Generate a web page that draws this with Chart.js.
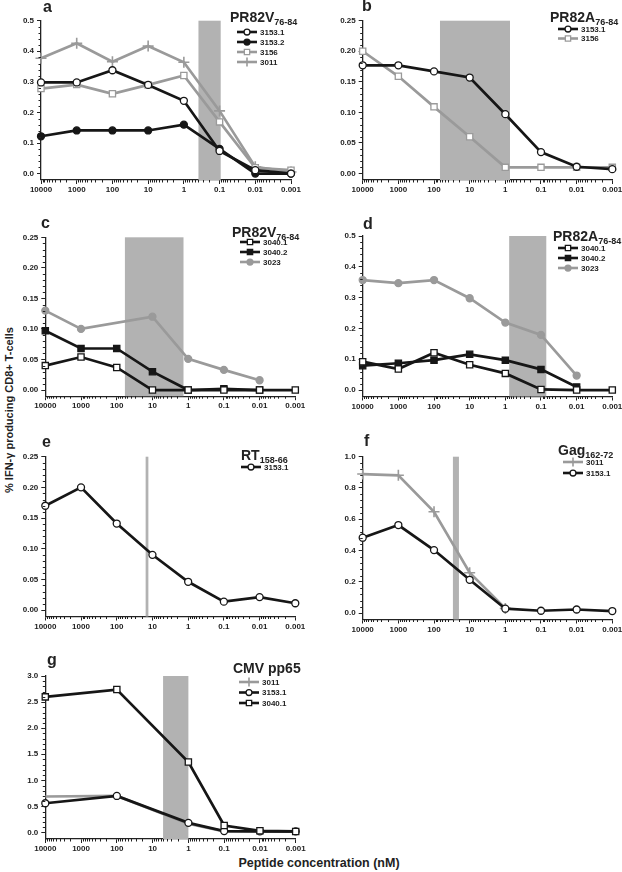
<!DOCTYPE html>
<html>
<head>
<meta charset="utf-8">
<script src="https://cdn.jsdelivr.net/npm/chart.js@4.4.1/dist/chart.umd.min.js"></script>
<style>
  html, body { margin: 0; padding: 0; background: #fff; }
  #fig { position: relative; width: 622px; height: 872px; overflow: hidden; }
  #fig canvas { position: absolute; left: 0; top: 0; }
  .ytitle { position: absolute; left: 9px; top: 410px; transform: translate(-50%, -50%) rotate(-90deg);
            white-space: nowrap; font: bold 11px 'Liberation Sans', Arial, sans-serif; color: #222; }
  .xtitle { position: absolute; left: 319px; top: 863px; transform: translate(-50%, -50%);
            white-space: nowrap; font: bold 12.5px 'Liberation Sans', Arial, sans-serif; color: #222; }
</style>
</head>
<body>
<div id="fig">
  <div class="ytitle">% IFN-γ producing CD8+ T-cells</div>
  <div class="xtitle">Peptide concentration (nM)</div>
</div>
<script>
// peptide concentrations (nM), x axis runs high -> low
const conc = [10000, 1000, 100, 10, 1, 0.1, 0.01, 0.001];

// a: PR82V 76-84
const a_3153_1 = [0.298, 0.298, 0.338, 0.29, 0.238, 0.074, 0.011, 0.0];
const a_3153_2 = [0.122, 0.141, 0.141, 0.141, 0.16, 0.081, 0.0, 0.0];
const a_3156   = [0.278, 0.291, 0.261, 0.29, 0.321, 0.169, 0.019, 0.011];
const a_3011   = [0.377, 0.426, 0.366, 0.417, 0.364, 0.205, 0.022, 0.005];
const a_band   = [0.39, 0.093];

// b: PR82A 76-84
const b_3153_1 = [0.177, 0.177, 0.167, 0.157, 0.097, 0.035, 0.011, 0.007];
const b_3156   = [0.20, 0.159, 0.109, 0.06, 0.01, 0.01, 0.01, 0.01];
const b_band   = [68, 0.74];

// c: PR82V 76-84
const c_3040_1 = [0.04, 0.054, 0.037, 0.0, 0.0, 0.0, 0.0, 0.0];
const c_3040_2 = [0.097, 0.068, 0.068, 0.03, 0.0, 0.002, 0.0, null];
const c_3023   = [0.13, 0.10, null, 0.12, 0.051, 0.033, 0.016, null];
const c_band   = [59, 1.35];

// d: PR82A 76-84
const d_3040_1 = [0.092, 0.068, 0.121, 0.082, 0.054, 0.002, 0.0, 0.0];
const d_3040_2 = [0.079, 0.087, 0.097, 0.116, 0.097, 0.067, 0.01, null];
const d_3023   = [0.357, 0.347, 0.357, 0.298, 0.219, 0.179, 0.047, null];
const d_band   = [0.78, 0.071];

// e: RT 158-66
const e_3153_1 = [0.17, 0.20, 0.141, 0.09, 0.046, 0.0136, 0.021, 0.011];
const e_band   = [15.5, 13];

// f: Gag 162-72
const f_3011   = [0.889, 0.881, 0.648, 0.258, 0.03, null, null, null];
const f_3153_1 = [0.482, 0.563, 0.403, 0.213, 0.028, 0.015, 0.023, 0.013];
const f_band   = [29.5, 20];

// g: CMV pp65
const g_3011   = [0.69, null, 0.70, null, 0.166, 0.02, 0.02, 0.02];
const g_3153_1 = [0.56, null, 0.70, null, 0.185, 0.026, 0.02, 0.02];
const g_3040_1 = [2.60, null, 2.74, null, 1.35, 0.134, 0.032, 0.02];
const g_band   = [5.1, 1.0];

const BLACK = '#161616', GRAY = '#9a9a9a', BAND = '#b2b2b2', TEXT = '#222';
const FONT = "'Liberation Sans', Arial, sans-serif";

const styles = {
  blackOpenCircle:  { color: BLACK, fill: '#fff', shape: 'circle', r: 3.5 },
  blackDotCircle:   { color: BLACK, fill: BLACK,  shape: 'circle', r: 3.5 },
  grayOpenSquare:   { color: GRAY,  fill: '#fff', shape: 'rect',   r: 4.4 },
  grayCross:        { color: GRAY,  fill: GRAY,   shape: 'cross',  r: 5.5 },
  blackOpenSquare:  { color: BLACK, fill: '#fff', shape: 'rect',   r: 4.4 },
  blackDotSquare:   { color: BLACK, fill: BLACK,  shape: 'rect',   r: 4.4 },
  grayDotCircle:    { color: GRAY,  fill: GRAY,   shape: 'circle', r: 3.5 }
};

const panels = [
  { letter: 'a', letterPos: [43, 12], title: 'PR82V', sub: '76-84', titlePos: [230, 22],
    area: [41, 20.7, 291, 180], yMin: -0.021, yMax: 0.5, yTicks: [0, 0.1, 0.2, 0.3, 0.4, 0.5], dec: 1,
    band: a_band, legend: [237, 32, 10],
    series: [
      { label: '3153.1', data: a_3153_1, style: 'blackOpenCircle' },
      { label: '3153.2', data: a_3153_2, style: 'blackDotCircle' },
      { label: '3156',   data: a_3156,   style: 'grayOpenSquare' },
      { label: '3011',   data: a_3011,   style: 'grayCross' }
    ] },
  { letter: 'b', letterPos: [362, 11], title: 'PR82A', sub: '76-84', titlePos: [550, 22],
    area: [362.7, 20.7, 612.3, 180], yMin: -0.0107, yMax: 0.25, yTicks: [0, 0.05, 0.1, 0.15, 0.2, 0.25], dec: 2,
    band: b_band, legend: [558, 29, 9.5],
    series: [
      { label: '3153.1', data: b_3153_1, style: 'blackOpenCircle' },
      { label: '3156',   data: b_3156,   style: 'grayOpenSquare' }
    ] },
  { letter: 'c', letterPos: [41, 228], title: 'PR82V', sub: '76-84', titlePos: [232, 237],
    area: [45.3, 237.3, 295.3, 396.2], yMin: -0.0101, yMax: 0.25, yTicks: [0, 0.05, 0.1, 0.15, 0.2, 0.25], dec: 2,
    band: c_band, legend: [240, 242, 10],
    series: [
      { label: '3040.1', data: c_3040_1, style: 'blackOpenSquare' },
      { label: '3040.2', data: c_3040_2, style: 'blackDotSquare' },
      { label: '3023',   data: c_3023,   style: 'grayDotCircle' }
    ] },
  { letter: 'd', letterPos: [363, 229], title: 'PR82A', sub: '76-84', titlePos: [553, 241],
    area: [362.7, 236, 612.3, 396.5], yMin: -0.021, yMax: 0.5, yTicks: [0, 0.1, 0.2, 0.3, 0.4, 0.5], dec: 1,
    band: d_band, legend: [558, 248, 10],
    series: [
      { label: '3040.1', data: d_3040_1, style: 'blackOpenSquare' },
      { label: '3040.2', data: d_3040_2, style: 'blackDotSquare' },
      { label: '3023',   data: d_3023,   style: 'grayDotCircle' }
    ] },
  { letter: 'e', letterPos: [42, 447], title: 'RT', sub: '158-66', titlePos: [241, 460],
    area: [45.3, 456.7, 295.3, 616.5], yMin: -0.0106, yMax: 0.25, yTicks: [0, 0.05, 0.1, 0.15, 0.2, 0.25], dec: 2,
    band: e_band, legend: [241, 467, 10],
    series: [
      { label: '3153.1', data: e_3153_1, style: 'blackOpenCircle' }
    ] },
  { letter: 'f', letterPos: [364, 446], title: 'Gag', sub: '162-72', titlePos: [558, 455],
    area: [362.7, 456.7, 612.3, 619.5], yMin: -0.041, yMax: 1.0, yTicks: [0, 0.2, 0.4, 0.6, 0.8, 1.0], dec: 1,
    band: f_band, legend: [563, 462, 11],
    series: [
      { label: '3011',   data: f_3011,   style: 'grayCross', order: 1 },
      { label: '3153.1', data: f_3153_1, style: 'blackOpenCircle', order: 0 }
    ] },
  { letter: 'g', letterPos: [47, 665], title: 'CMV pp65', sub: '', titlePos: [233, 673],
    area: [45.3, 676, 295.7, 839], yMin: -0.125, yMax: 3.0, yTicks: [0, 0.5, 1, 1.5, 2, 2.5, 3], dec: 1,
    band: g_band, legend: [239, 682, 10.5],
    series: [
      { label: '3011',   data: g_3011,   style: 'grayCross', order: 2, noPoints: true },
      { label: '3153.1', data: g_3153_1, style: 'blackOpenCircle', order: 1 },
      { label: '3040.1', data: g_3040_1, style: 'blackOpenSquare', order: 0 }
    ] }
];

function drawMarker(ctx, st, x, y, r) {
  ctx.save();
  ctx.lineWidth = st.shape === 'cross' ? 1.6 : 1.3;
  ctx.strokeStyle = st.color;
  ctx.fillStyle = st.fill;
  ctx.beginPath();
  if (st.shape === 'circle') {
    ctx.arc(x, y, r, 0, Math.PI * 2);
  } else if (st.shape === 'rect') {
    const s = r * Math.SQRT1_2;
    ctx.rect(x - s, y - s, 2 * s, 2 * s);
  } else {
    ctx.moveTo(x - r, y); ctx.lineTo(x + r, y);
    ctx.moveTo(x, y - r); ctx.lineTo(x, y + r);
  }
  if (st.shape !== 'cross') ctx.fill();
  ctx.stroke();
  ctx.restore();
}

// band, minor ticks, panel letter and legend for one panel
function makeDecor(p) {
  return {
    id: 'decor',
    beforeDatasetsDraw(chart) {
      const ctx = chart.ctx, xs = chart.scales.x, ca = chart.chartArea;
      const x1 = xs.getPixelForValue(p.band[0]), x2 = xs.getPixelForValue(p.band[1]);
      ctx.save();
      ctx.fillStyle = BAND;
      ctx.fillRect(Math.min(x1, x2), ca.top, Math.abs(x2 - x1), ca.bottom - ca.top);
      ctx.restore();
    },
    afterDraw(chart) {
      const ctx = chart.ctx, xs = chart.scales.x, ys = chart.scales.y, ca = chart.chartArea;
      ctx.save();
      ctx.strokeStyle = TEXT;
      ctx.lineWidth = 1;
      // minor ticks on the log x axis
      ctx.beginPath();
      for (let d = 0.001; d < 5000; d *= 10) {
        for (let k = 2; k <= 9; k++) {
          const px = Math.round(xs.getPixelForValue(k * d)) + 0.5;
          ctx.moveTo(px, ca.bottom); ctx.lineTo(px, ca.bottom + 2.5);
        }
      }
      // minor ticks on y
      const step = (p.yTicks[1] - p.yTicks[0]) / 5;
      for (let i = 1; i * step < p.yMax - 1e-9; i++) {
        if (i % 5 === 0) continue;
        const py = Math.round(ys.getPixelForValue(i * step)) + 0.5;
        ctx.moveTo(ca.left - 2.5, py); ctx.lineTo(ca.left, py);
      }
      ctx.stroke();

      // panel letter
      ctx.fillStyle = TEXT;
      ctx.textBaseline = 'alphabetic';
      ctx.font = 'bold 16px ' + FONT;
      ctx.fillText(p.letter, p.letterPos[0], p.letterPos[1]);

      // legend title with subscript
      ctx.font = 'bold 14px ' + FONT;
      ctx.fillText(p.title, p.titlePos[0], p.titlePos[1]);
      if (p.sub) {
        const w = ctx.measureText(p.title).width;
        ctx.font = 'bold 9px ' + FONT;
        ctx.fillText(p.sub, p.titlePos[0] + w, p.titlePos[1] + 3);
      }

      // legend entries
      const [lx, ly, dy] = p.legend;
      p.series.forEach((s, i) => {
        const st = styles[s.style], y = ly + i * dy;
        ctx.strokeStyle = st.color;
        ctx.lineWidth = 2.6;
        ctx.beginPath(); ctx.moveTo(lx, y); ctx.lineTo(lx + 20, y); ctx.stroke();
        drawMarker(ctx, st, lx + 10, y, st.shape === 'cross' ? 4.5 : st.r * 0.85);
        ctx.fillStyle = TEXT;
        ctx.font = 'bold 8px ' + FONT;
        ctx.textBaseline = 'middle';
        ctx.fillText(s.label, lx + 23, y + 0.5);
      });
      ctx.restore();
    }
  };
}

const fig = document.getElementById('fig');
const Y_W = 30, X_H = 30;

panels.forEach(p => {
  const cv = document.createElement('canvas');
  cv.width = 622; cv.height = 872;
  fig.appendChild(cv);
  const [L, T, R, B] = p.area;
  new Chart(cv, {
    type: 'line',
    data: {
      datasets: p.series.map(s => {
        const st = styles[s.style];
        return {
          label: s.label,
          data: conc.map((x, i) => ({ x: x, y: s.data[i] === undefined ? null : s.data[i] })),
          borderColor: st.color,
          backgroundColor: st.fill,
          borderWidth: 2.7,
          pointStyle: st.shape,
          pointRadius: s.noPoints ? 0 : st.r,
          pointBorderWidth: st.shape === 'cross' ? 1.6 : 1.3,
          pointBackgroundColor: st.fill,
          pointBorderColor: st.color,
          spanGaps: true,
          tension: 0,
          clip: false,
          order: s.order || 0
        };
      })
    },
    options: {
      responsive: false,
      animation: false,
      devicePixelRatio: 1,
      events: [],
      layout: { padding: { left: L - Y_W, top: T, right: 622 - R, bottom: 872 - B - X_H } },
      plugins: { legend: { display: false }, tooltip: { enabled: false } },
      scales: {
        x: {
          type: 'logarithmic',
          reverse: true,
          min: 0.001,
          max: 10000,
          afterBuildTicks: s => { s.ticks = conc.map(v => ({ value: v })); },
          afterFit: s => { s.height = X_H; s.paddingLeft = 0; s.paddingRight = 0; },
          ticks: { callback: v => String(v), font: { family: FONT, size: 8, weight: 'bold' }, color: TEXT,
                   padding: 1, maxRotation: 0, autoSkip: false },
          grid: { drawOnChartArea: false, tickLength: 4, color: TEXT, lineWidth: 1 },
          border: { color: TEXT, width: 1.3 }
        },
        y: {
          min: p.yMin,
          max: p.yMax,
          afterBuildTicks: s => { s.ticks = p.yTicks.map(v => ({ value: v })); },
          afterFit: s => { s.width = Y_W; s.paddingTop = 0; s.paddingBottom = 0; },
          ticks: { callback: v => v.toFixed(p.dec), font: { family: FONT, size: 8, weight: 'bold' }, color: TEXT,
                   padding: 3, autoSkip: false },
          grid: { drawOnChartArea: false, tickLength: 4, color: TEXT, lineWidth: 1 },
          border: { color: TEXT, width: 1.3 }
        }
      }
    },
    plugins: [makeDecor(p)]
  });
});
</script>
</body>
</html>
